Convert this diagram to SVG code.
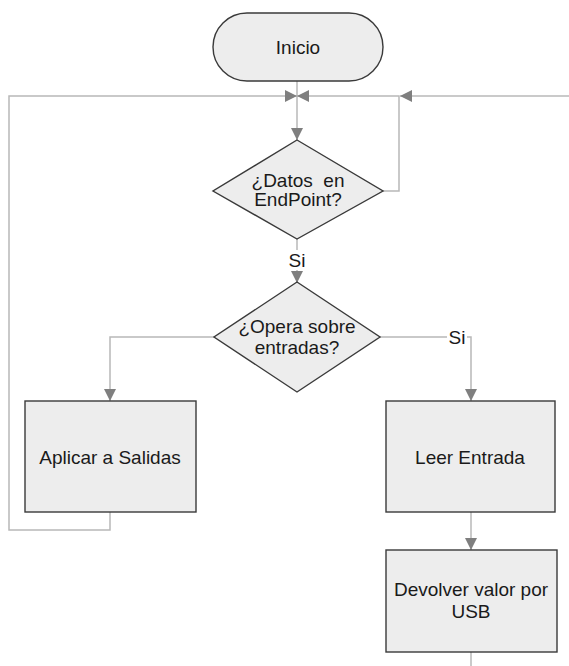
<svg xmlns="http://www.w3.org/2000/svg" width="569" height="666" viewBox="0 0 569 666">
<style>
.shape{fill:#ededed;stroke:#3a3a3a;stroke-width:1.4}
.lbl{font-family:"Liberation Sans",Arial,sans-serif;font-size:19px;fill:#1a1a1a;text-anchor:middle}
.conn{fill:none;stroke:#b8b8b8;stroke-width:1.5}
.pt{stroke:#b0b0b0;stroke-width:0.8}
</style>
<defs>
<marker id="arr" viewBox="0 0 12 12" refX="12" refY="6" markerWidth="12" markerHeight="12" markerUnits="userSpaceOnUse" orient="auto">
<path d="M0,0 L12,6 L0,12 Z" fill="#7f7f7f"/>
</marker>
</defs>
<rect width="569" height="666" fill="#ffffff"/>
<g id="connectors">
<path class="conn" d="M297,81 V140" marker-end="url(#arr)"/>
<path class="conn" d="M383,191 H399 V96 H297" marker-end="url(#arr)"/>
<path class="conn" d="M569,96 H400" marker-end="url(#arr)"/>
<path class="conn" d="M297,239 V283" marker-end="url(#arr)"/>
<path class="conn" d="M214,337 H110 V401" marker-end="url(#arr)"/>
<path class="conn" d="M380,337 H471 V401" marker-end="url(#arr)"/>
<path class="conn" d="M110,512 V530 H9 V96 H297" marker-end="url(#arr)"/>
<path class="conn" d="M471,512 V550" marker-end="url(#arr)"/>
<path class="conn" d="M471,652 V666"/>
<g id="label-si-1">
<rect x="286" y="250" width="22" height="20" fill="#ffffff"/>
<text class="lbl" x="297" y="267">Si</text>
</g>
<g id="label-si-2">
<rect x="447" y="327" width="20" height="20" fill="#ffffff"/>
<text class="lbl" x="457" y="344">Si</text>
</g>
</g>
<g id="inicio">
<rect class="shape" x="213" y="13" width="170" height="68" rx="34" ry="34"/>
<text class="lbl" x="298" y="54">Inicio</text>
</g>
<g id="datos-endpoint">
<polygon class="shape" points="297,140 383,191 297,239 213,191"/>
<text class="lbl" x="298" y="187" xml:space="preserve">¿Datos  en</text>
<text class="lbl" x="298" y="206">EndPoint?</text>
</g>
<g id="opera-entradas">
<polygon class="shape" points="297,282 380,337 297,392 214,337"/>
<text class="lbl" x="297" y="333">¿Opera sobre</text>
<text class="lbl" x="297" y="354">entradas?</text>
</g>
<g id="aplicar-salidas">
<rect class="shape" x="25" y="401" width="171" height="111"/>
<text class="lbl" x="110" y="464">Aplicar a Salidas</text>
</g>
<g id="leer-entrada">
<rect class="shape" x="386" y="401" width="169" height="111"/>
<text class="lbl" x="470" y="464">Leer Entrada</text>
</g>
<g id="devolver-usb">
<rect class="shape" x="386" y="550" width="171" height="102"/>
<text class="lbl" x="471" y="596">Devolver valor por</text>
<text class="lbl" x="471" y="618">USB</text>
</g>
</svg>
